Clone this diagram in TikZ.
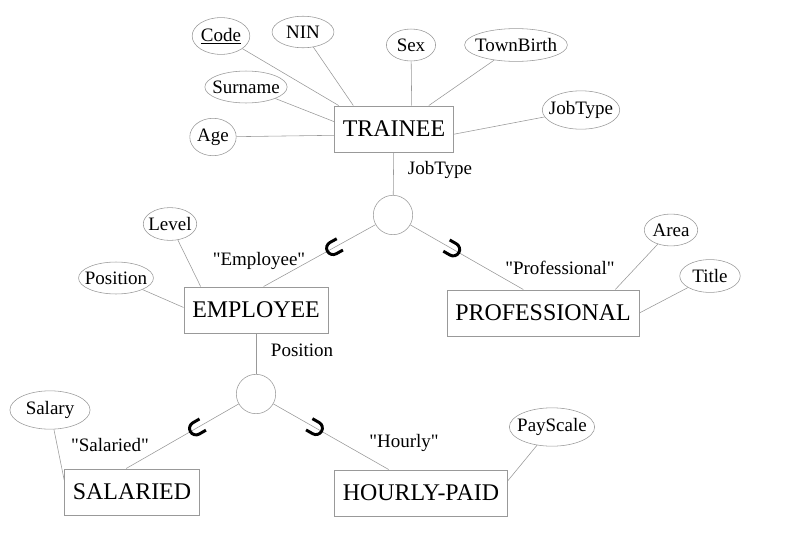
\documentclass[tikz,border=0pt]{standalone}
\usepackage{fontspec}
\setmainfont{Liberation Serif}
\usetikzlibrary{shapes.geometric,decorations.markings}

\newcommand{\qt}[1]{\textquotedbl#1\textquotedbl}

\tikzset{
  entity/.style={draw=gray!80, rectangle, inner xsep=6pt, minimum height=33pt,
    font=\fontsize{17}{20}\selectfont},
  attr/.style={draw=gray!80, ellipse, inner xsep=-3.3pt, inner ysep=3.5pt,
    font=\fontsize{13.5}{16}\selectfont},
  spec/.style={draw=gray!80, circle, minimum size=28pt},
  lbl/.style={font=\fontsize{13.5}{16}\selectfont},
  link/.style={draw=gray!80},
  subset/.style={link, postaction={decorate}, decoration={markings,
    mark=at position #1 with {\draw[black, line width=2.1pt]
      (-5.5pt,4.6pt) -- (0,4.6pt) arc[start angle=90, end angle=-90, radius=4.6pt] -- (-5.5pt,-4.6pt);}}}
}

\begin{document}
\begin{tikzpicture}[x=0.025cm, y=-0.025cm]
 \useasboundingbox (0,0) rectangle (805,553);

 % entities
 \node[entity] (trainee) at (394,129) {TRAINEE};
 \node[entity] (employee) at (256,310) {EMPLOYEE};
 \node[entity] (professional) at (543,313) {PROFESSIONAL};
 \node[entity] (salaried) at (132,492) {SALARIED};
 \node[entity] (hourly) at (421,493) {HOURLY-PAID};

 % attributes of TRAINEE
 \node[attr, minimum width=41pt] (code) at (221,36) {\underline{Code}};
 \node[attr, minimum width=44pt] (nin) at (303,32) {NIN};
 \node[attr, minimum width=35pt] (sex) at (411,45) {Sex};
 \node[attr] (townbirth) at (516,45) {TownBirth};
 \node[attr] (surname) at (246,87) {Surname};
 \node[attr, minimum width=33pt] (age) at (213,137) {Age};
 \node[attr] (jobtype) at (581,110) {JobType};

 \draw[link] (code) -- (trainee.157);
 \draw[link] (nin) -- (trainee.150);
 \draw[link] (sex) -- (trainee.53);
 \draw[link] (townbirth) -- (trainee.34);
 \draw[link] (surname) -- (trainee.173);
 \draw[link] (age) -- (trainee.186);
 \draw[link] (jobtype) -- (trainee.-5);

 % specialization of TRAINEE
 \node[spec] (spectrainee) at (393,215) {};
 \node[lbl, anchor=west] (jobtypelbl) at (403,170) {JobType};
 \draw[link] (trainee) -- (spectrainee);
 \draw[subset=0.38] (spectrainee) -- (employee.72);
 \draw[subset=0.38] (spectrainee) -- (professional.130);
 \node[lbl] (employeelbl) at (259,261) {\qt{Employee}};
 \node[lbl] (professionallbl) at (560,268) {\qt{Professional}};

 % attributes of EMPLOYEE
 \node[attr, minimum width=38pt] (level) at (170,224) {Level};
 \node[attr] (position) at (116,278) {Position};
 \draw[link] (level) -- (employee.157);
 \draw[link] (position) -- (employee.178);

 % attributes of PROFESSIONAL
 \node[attr, minimum width=38pt] (area) at (671,230) {Area};
 \node[attr, minimum width=43pt] (title) at (710,276) {Title};
 \draw[link] (area) -- (professional.18);
 \draw[link] (title) -- (professional.0);

 % specialization of EMPLOYEE
 \node[spec] (specemployee) at (256,394) {};
 \node[lbl, anchor=west] (positionlbl) at (266,350) {Position};
 \draw[link] (employee) -- (specemployee);
 \draw[subset=0.38] (specemployee) -- (salaried.104);
 \draw[subset=0.37] (specemployee) -- (hourly.144);
 \node[lbl] (salariedlbl) at (110,445) {\qt{Salaried}};
 \node[lbl] (hourlylbl) at (404,443) {\qt{Hourly}};

 % attributes of subclasses
 \node[attr, minimum width=57pt] (salary) at (50,410) {Salary};
 \node[attr] (payscale) at (552,427) {PayScale};
 \draw[link] (salary) -- (salaried.170);
 \draw[link] (payscale) -- (hourly.8);
\end{tikzpicture}
\end{document}
